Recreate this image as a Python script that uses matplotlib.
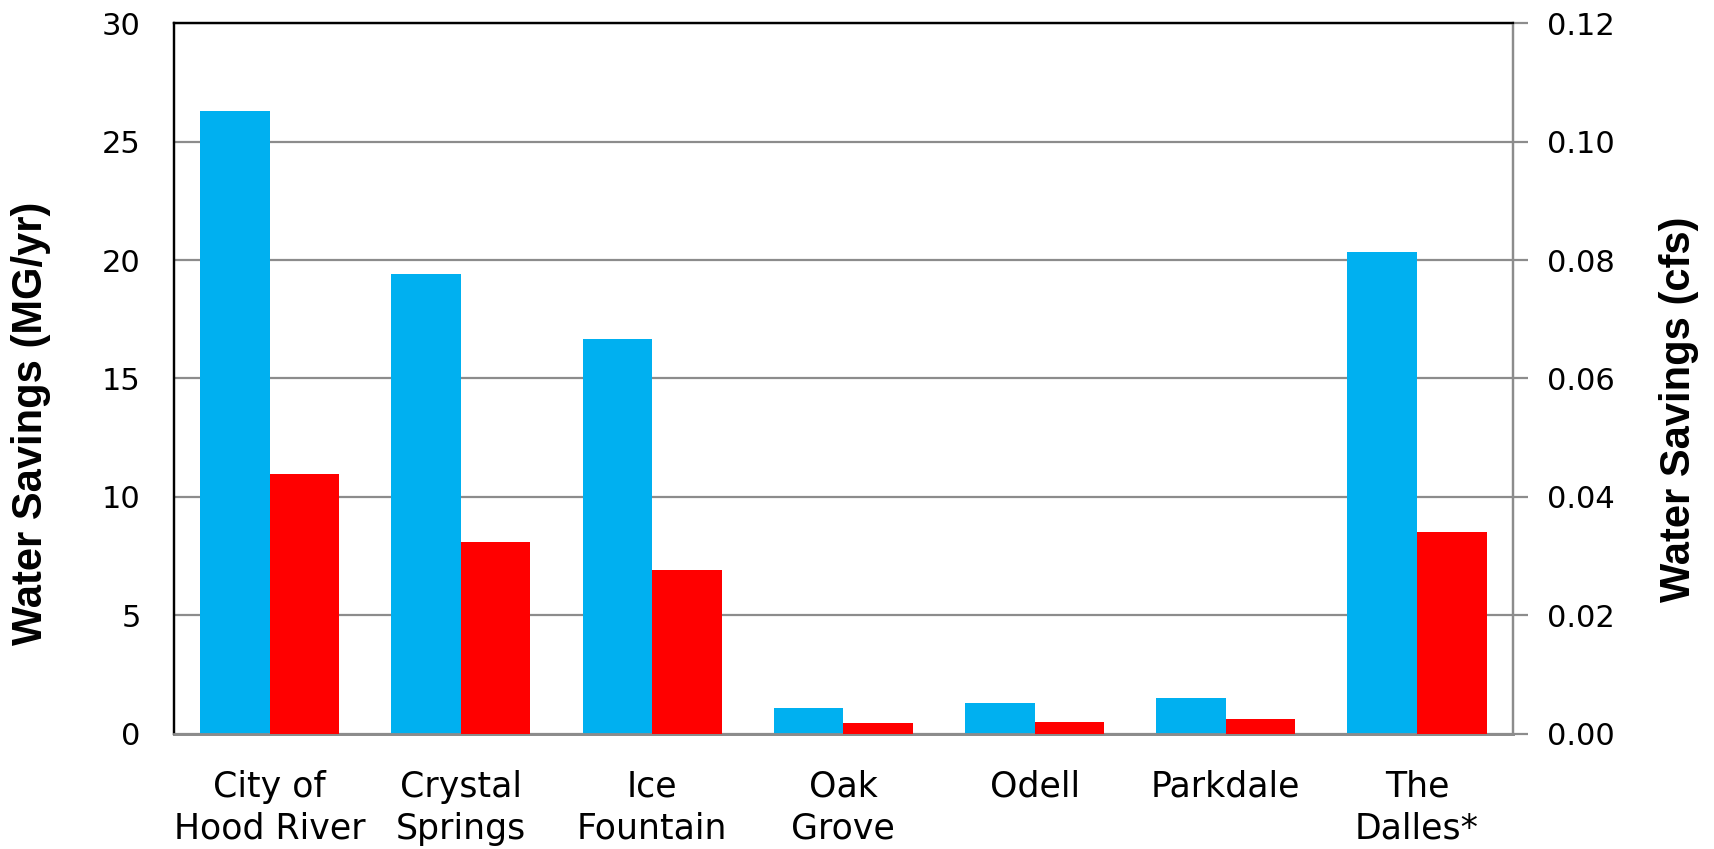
import numpy as np
import matplotlib
matplotlib.use("Agg")
import matplotlib.pyplot as plt

# water savings per system
systems = ["City of\nHood River", "Crystal\nSprings", "Ice\nFountain", "Oak\nGrove",
           "Odell", "Parkdale", "The\nDalles*"]
savings_mgyr = [26.28, 19.40, 16.66, 1.06, 1.27, 1.49, 20.36]
savings_cfs = [0.0438, 0.0323, 0.0277, 0.0018, 0.0020, 0.0024, 0.0340]

left_ticks = [0, 5, 10, 15, 20, 25, 30]
right_ticks = [0.00, 0.02, 0.04, 0.06, 0.08, 0.10, 0.12]

blue = "#00B0F0"
red = "#FF0000"
grid_gray = "#8c8c8c"

fig = plt.figure(figsize=(17.15, 8.49), dpi=100)
ax = fig.add_axes([0.1015, 0.136, 0.7805, 0.8365])
ax2 = ax.twinx()

x = np.arange(len(systems))
w = 1 / 2.75

ax.bar(x - w / 2, savings_mgyr, width=w, color=blue, zorder=3)
ax2.bar(x + w / 2, savings_cfs, width=w, color=red, zorder=3)

ax.set_xlim(-0.5, len(systems) - 0.5)
ax.set_ylim(0, 30)
ax2.set_ylim(0, 0.12)
ax.set_yticks(left_ticks)
ax2.set_yticks(right_ticks)
ax2.set_yticklabels([f"{t:.2f}" for t in right_ticks])
ax.set_xticks(x)
ax.set_xticklabels(systems, fontsize=25, linespacing=1.3)

ax.yaxis.grid(True, color=grid_gray, lw=1.6, zorder=0)
ax.set_axisbelow(True)

ax.tick_params(axis="y", length=0, labelsize=22, pad=24)
ax.tick_params(axis="x", length=0, pad=26)
ax2.tick_params(axis="y", length=11, width=1.6, color=grid_gray, labelsize=22, pad=14)

for a in (ax, ax2):
    a.spines["left"].set_color("black")
    a.spines["left"].set_linewidth(1.6)
    a.spines["top"].set_color("black")
    a.spines["top"].set_linewidth(1.6)
    a.spines["right"].set_color(grid_gray)
    a.spines["right"].set_linewidth(1.6)
    a.spines["bottom"].set_color(grid_gray)
    a.spines["bottom"].set_linewidth(2)

label_font = dict(family=["Liberation Sans", "DejaVu Sans"], fontweight="bold", fontsize=30)
fig.text(31 / 1715, 1 - 423 / 849, "Water Savings (MG/yr)", rotation=90,
         ha="center", va="center", **label_font)
fig.text(1679 / 1715, 1 - 409 / 849, "Water Savings (cfs)", rotation=90,
         ha="center", va="center", **label_font)

fig.savefig("out.png", dpi=100)
